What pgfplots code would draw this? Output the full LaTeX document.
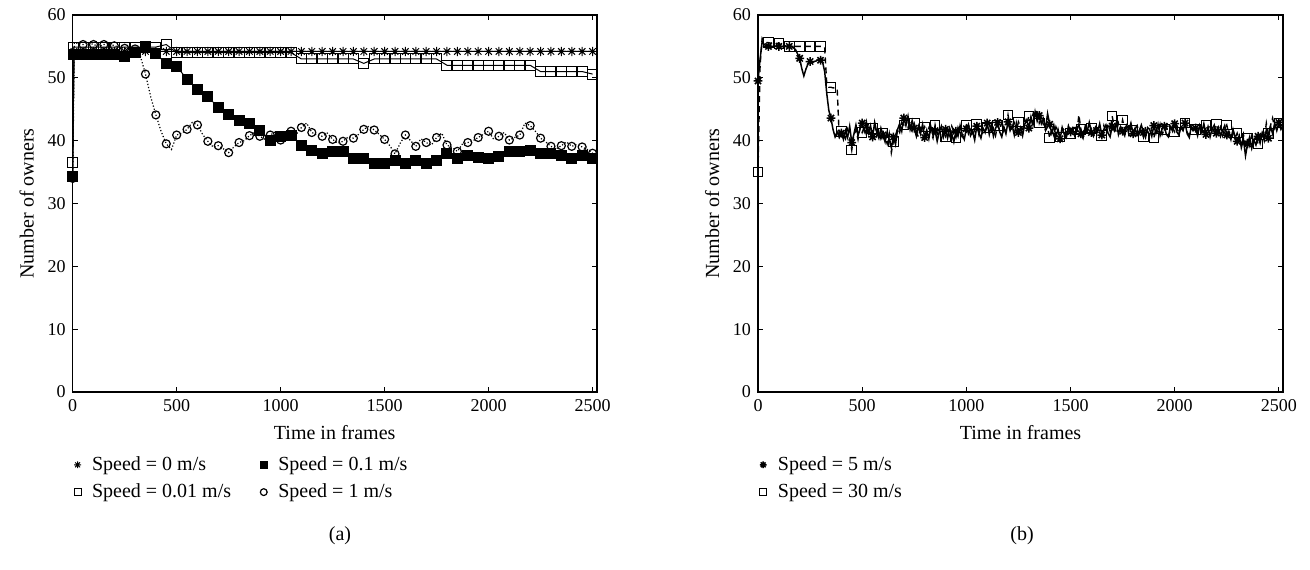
\documentclass[border=0pt]{standalone}
\usepackage{fontspec}
\setmainfont{Liberation Serif}
\usepackage{pgfplots}
\pgfplotsset{compat=1.18}
\pgfdeclareplotmark{ast8}{%
 \pgfpathmoveto{\pgfqpoint{-\pgfplotmarksize}{0pt}}\pgfpathlineto{\pgfqpoint{\pgfplotmarksize}{0pt}}%
 \pgfpathmoveto{\pgfqpoint{0pt}{-\pgfplotmarksize}}\pgfpathlineto{\pgfqpoint{0pt}{\pgfplotmarksize}}%
 \pgfpathmoveto{\pgfqpoint{-.707\pgfplotmarksize}{-.707\pgfplotmarksize}}\pgfpathlineto{\pgfqpoint{.707\pgfplotmarksize}{.707\pgfplotmarksize}}%
 \pgfpathmoveto{\pgfqpoint{-.707\pgfplotmarksize}{.707\pgfplotmarksize}}\pgfpathlineto{\pgfqpoint{.707\pgfplotmarksize}{-.707\pgfplotmarksize}}%
 \pgfusepathqstroke}
\pgfplotsset{
 myax/.style={scale only axis, height=188.5pt, xmin=0, xmax=2520, ymin=0, ymax=60,
  xtick={0,500,...,2500}, ytick={0,10,...,60}, tick align=inside, major tick length=2.5pt,
  axis line style={line width=0.8pt}, every tick/.style={line width=0.6pt, black},
  tick label style={font=\small}, /pgf/number format/assume math mode=true,
  /pgf/number format/1000 sep={},
  xlabel={Time in frames}, ylabel={Number of owners},
  legend cell align=left,
  legend image code/.code={\path (-3pt,0pt) (5pt,0pt); \draw[mark size=1.7pt, mark repeat=1, mark phase=1] plot coordinates {(0pt,0pt)};},
  legend style={draw=none, fill=none, font=\normalsize, at={(axis description cs:0,0)}, anchor=north west, xshift=-1pt, yshift=-30pt, inner sep=0pt, row sep=1.2pt, /tikz/every even column/.append style={column sep=11pt}},
 }
}
\begin{document}
\begin{tikzpicture}
\path[use as bounding box] (0,0) rectangle (655pt,284.5pt);
\begin{axis}[myax, width=262pt, at={(36.35pt,88.5pt)}, anchor=south west, legend columns=2, transpose legend]
\addplot[black, line width=0.5pt, mark=ast8, mark size=2.3pt, mark options={solid}] coordinates {
(0,34.0)(6,54.2)(50,54.2)(100,54.2)(150,54.2)(200,54.2)(250,54.2)(300,54.2)(350,54.2)(400,54.2)(450,54.2)(500,54.2)(550,54.2)(600,54.2)(650,54.2)(700,54.2)(750,54.2)(800,54.2)(850,54.2)(900,54.2)(950,54.2)(1000,54.2)(1050,54.2)(1100,54.2)(1150,54.2)(1200,54.2)(1250,54.2)(1300,54.2)(1350,54.2)(1400,54.2)(1450,54.2)(1500,54.2)(1550,54.2)(1600,54.2)(1650,54.2)(1700,54.2)(1750,54.2)(1800,54.2)(1850,54.2)(1900,54.2)(1950,54.2)(2000,54.2)(2050,54.2)(2100,54.2)(2150,54.2)(2200,54.2)(2250,54.2)(2300,54.2)(2350,54.2)(2400,54.2)(2450,54.2)(2500,54.2)};
\addlegendentry{Speed = 0 m/s}
\addplot[black, line width=0.5pt, mark=square, mark size=2.5pt, mark options={solid}] coordinates {
(0,36.6)(6,54.9)(50,54.9)(100,54.9)(150,54.9)(200,54.9)(250,54.9)(300,54.9)(350,54.9)(400,54.9)(450,55.3)(500,54.0)(550,54.0)(600,54.0)(650,54.0)(700,54.0)(750,54.0)(800,54.0)(850,54.0)(900,54.0)(950,54.0)(1000,54.0)(1050,54.0)(1100,53.0)(1150,53.0)(1200,53.0)(1250,53.0)(1300,53.0)(1350,53.0)(1400,52.3)(1450,53.0)(1500,53.0)(1550,53.0)(1600,53.0)(1650,53.0)(1700,53.0)(1750,53.0)(1800,52.0)(1850,52.0)(1900,52.0)(1950,52.0)(2000,52.0)(2050,52.0)(2100,52.0)(2150,52.0)(2200,52.0)(2250,51.0)(2300,51.0)(2350,51.0)(2400,51.0)(2450,51.0)(2500,50.6)};
\addlegendentry{Speed = 0.01 m/s}
\addplot[black, line width=0.5pt, mark=square*, mark size=2.5pt, mark options={solid, fill=black}] coordinates {
(0,34.3)(6,53.7)(50,53.7)(100,53.7)(150,53.7)(200,53.7)(250,53.4)(300,54.0)(350,55.0)(400,53.8)(450,52.3)(500,51.8)(550,49.8)(600,48.1)(650,47.0)(700,45.3)(750,44.1)(800,43.2)(850,42.8)(900,41.6)(950,40.1)(1000,40.7)(1050,40.9)(1100,39.2)(1150,38.5)(1200,38.0)(1250,38.3)(1300,38.3)(1350,37.2)(1400,37.2)(1450,36.3)(1500,36.3)(1550,36.8)(1600,36.4)(1650,36.9)(1700,36.3)(1750,36.9)(1800,37.9)(1850,37.2)(1900,37.7)(1950,37.4)(2000,37.2)(2050,37.5)(2100,38.3)(2150,38.3)(2200,38.4)(2250,37.9)(2300,37.9)(2350,37.7)(2400,37.1)(2450,37.7)(2500,37.2)};
\addlegendentry{Speed = 0.1 m/s}
\addplot[black, line width=0.6pt, densely dotted, mark=o, mark size=2pt, mark repeat=2, mark phase=1, mark options={solid}] coordinates {
(0,34.0)(8,55.6)(50,55.3)(75,55.6)(100,55.3)(125,55.0)(150,55.3)(175,55.5)(200,55.1)(225,54.9)(250,54.7)(275,54.5)(300,54.6)(325,53.5)(350,50.6)(375,47.0)(400,44.1)(425,41.5)(450,39.5)(475,38.6)(500,40.9)(525,41.2)(550,41.8)(575,42.9)(600,42.5)(625,41.0)(650,39.9)(675,39.0)(700,39.2)(725,38.7)(750,38.1)(775,39.0)(800,39.7)(825,40.0)(850,40.8)(875,41.3)(900,40.7)(925,40.2)(950,40.9)(975,41.4)(1000,40.1)(1025,40.8)(1050,41.5)(1075,41.0)(1100,42.1)(1125,42.8)(1150,41.3)(1175,40.9)(1200,40.7)(1225,41.2)(1250,40.2)(1275,39.6)(1300,39.9)(1325,40.6)(1350,40.4)(1375,41.0)(1400,41.8)(1425,42.3)(1450,41.7)(1475,41.0)(1500,40.2)(1525,39.2)(1550,37.9)(1575,39.6)(1600,40.9)(1625,40.0)(1650,39.1)(1675,40.3)(1700,39.7)(1725,39.3)(1750,40.5)(1775,41.2)(1800,39.3)(1825,38.9)(1850,38.3)(1875,39.5)(1900,39.7)(1925,40.0)(1950,40.5)(1975,41.0)(2000,41.5)(2025,40.2)(2050,40.7)(2075,41.3)(2100,40.1)(2125,40.5)(2150,40.9)(2175,42.8)(2200,42.4)(2225,41.5)(2250,40.4)(2275,39.8)(2300,39.1)(2325,38.7)(2350,39.2)(2375,39.8)(2400,39.1)(2425,39.4)(2450,39.0)(2475,38.6)(2500,38.0)};
\addlegendentry{Speed = 1 m/s}
\end{axis}
\begin{axis}[myax, width=262.5pt, at={(379pt,88.5pt)}, anchor=south west]
\addplot[black, line width=0.75pt, mark=ast8, mark size=2.2pt, mark repeat=5, mark phase=1, mark options={solid}] coordinates {
(0,49.5)(10,53.0)(20,55.8)(30,55.3)(40,55.1)(50,55.0)(60,55.1)(70,54.9)(80,55.0)(90,55.1)(100,55.0)(110,54.9)(120,55.0)(130,55.1)(140,54.9)(150,55.0)(160,55.0)(170,54.8)(180,54.5)(190,53.8)(200,53.1)(210,51.5)(220,50.3)(230,51.4)(240,52.2)(250,52.6)(260,52.4)(270,52.6)(280,52.7)(290,52.9)(300,52.8)(310,52.5)(320,51.0)(330,47.5)(340,44.8)(350,43.6)(360,41.8)(370,40.6)(380,41.4)(390,40.5)(400,41.2)
(410,40.2)(420,41.6)(430,40.5)(440,42.3)(450,39.7)(460,41.0)(470,42.5)(480,40.8)(490,41.9)(500,42.8)
(510,41.5)(520,43.0)(530,41.2)(540,42.4)(550,40.6)(560,42.9)(570,41.3)(580,40.4)(590,42.0)(600,40.9)
(610,39.8)(620,41.4)(630,40.2)(640,38.9)(650,40.6)(660,39.4)(670,41.8)(680,42.7)(690,41.5)(700,43.6)
(710,42.4)(720,43.9)(730,41.8)(740,43.2)(750,42.0)(760,40.7)(770,42.3)(780,41.1)(790,42.6)(800,40.5)
(810,41.7)(820,40.3)(830,42.2)(840,40.9)(850,41.6)(860,39.9)(870,41.4)(880,42.3)(890,40.6)(900,41.8)
(910,40.4)(920,42.0)(930,41.1)(940,39.8)(950,41.5)(960,40.7)(970,42.4)(980,41.0)(990,40.2)(1000,41.9)
(1010,42.6)(1020,40.8)(1030,41.5)(1040,40.1)(1050,42.3)(1060,41.2)(1070,40.4)(1080,42.0)(1090,41.3)(1100,42.8)
(1110,41.0)(1120,42.5)(1130,40.7)(1140,41.9)(1150,42.9)(1160,41.4)(1170,40.6)(1180,42.2)(1190,41.1)(1200,43.0)
(1210,41.6)(1220,42.4)(1230,40.9)(1240,42.8)(1250,41.3)(1260,42.1)(1270,40.8)(1280,42.6)(1290,43.3)(1300,42.0)
(1310,43.8)(1320,42.5)(1330,44.6)(1340,43.1)(1350,44.0)(1360,42.7)(1370,43.5)(1380,41.9)(1390,44.3)(1400,42.6)
(1410,41.2)(1420,42.4)(1430,40.6)(1440,41.8)(1450,40.3)(1460,42.1)(1470,41.0)(1480,40.5)(1490,42.3)(1500,41.4)
(1510,42.0)(1520,40.8)(1530,41.7)(1540,42.6)(1550,41.1)(1560,40.4)(1570,42.2)(1580,41.5)(1590,42.9)(1600,41.3)
(1610,40.7)(1620,42.1)(1630,41.4)(1640,42.7)(1650,40.9)(1660,41.8)(1670,42.5)(1680,41.2)(1690,40.6)(1700,42.3)
(1710,41.6)(1720,42.9)(1730,41.0)(1740,42.2)(1750,41.5)(1760,40.8)(1770,42.4)(1780,41.7)(1790,42.8)(1800,41.1)
(1810,42.0)(1820,40.9)(1830,41.6)(1840,42.5)(1850,41.3)(1860,40.5)(1870,42.1)(1880,41.8)(1890,40.7)(1900,42.4)
(1910,41.2)(1920,42.6)(1930,40.8)(1940,41.9)(1950,42.3)(1960,41.0)(1970,40.6)(1980,42.2)(1990,41.5)(2000,42.7)
(2010,41.4)(2020,40.9)(2030,42.1)(2040,41.6)(2050,42.8)(2060,41.1)(2070,40.5)(2080,42.3)(2090,41.7)(2100,42.0)
(2110,40.8)(2120,42.4)(2130,41.3)(2140,42.7)(2150,41.0)(2160,42.2)(2170,40.6)(2180,41.9)(2190,42.5)(2200,41.2)
(2210,42.1)(2220,40.7)(2230,41.6)(2240,42.4)(2250,40.9)(2260,41.5)(2270,40.2)(2280,41.8)(2290,40.6)(2300,39.9)
(2310,40.8)(2320,38.9)(2330,40.2)(2340,37.6)(2350,39.5)(2360,40.6)(2370,38.8)(2380,40.1)(2390,39.3)(2400,40.7)
(2410,39.6)(2420,41.2)(2430,40.0)(2440,41.7)(2450,40.4)(2460,42.3)(2470,41.1)(2480,42.8)(2490,41.6)(2500,42.9)
(2510,41.8)(2520,42.4)};
\addlegendentry{Speed = 5 m/s}
\addplot[black, line width=0.7pt, dash pattern=on 3pt off 2pt, mark=square, mark size=2.4pt, mark repeat=5, mark phase=1, mark options={solid, line width=0.5pt}] coordinates {
(0,35.0)(10,52.0)(20,56.3)(30,55.8)(40,55.6)(50,55.6)(60,55.5)(70,55.6)(80,55.5)(90,55.5)(100,55.5)(110,55.2)(120,55.0)(130,55.0)(140,55.0)(150,55.0)(160,55.0)(170,55.0)(180,55.0)(190,55.0)(200,55.0)(210,55.0)(220,55.0)(230,55.0)(240,55.0)(250,55.0)(260,55.0)(270,55.0)(280,55.0)(290,55.0)(300,55.0)(310,55.0)(320,54.8)(330,49.0)(340,48.5)(350,48.5)(360,48.4)(370,48.4)(380,48.3)(390,40.6)(400,41.5)
(410,41.0)(420,40.3)(430,41.8)(440,40.6)(450,38.5)(460,40.9)(470,41.7)(480,40.2)(490,42.1)(500,41.3)
(510,42.2)(520,41.0)(530,42.8)(540,40.7)(550,41.9)(560,42.4)(570,40.8)(580,41.6)(590,40.3)(600,41.2)
(610,40.6)(620,39.5)(630,41.1)(640,38.1)(650,39.9)(660,40.8)(670,42.0)(680,41.3)(690,42.9)(700,42.5)
(710,43.4)(720,42.1)(730,43.0)(740,41.6)(750,42.7)(760,41.3)(770,40.6)(780,42.0)(790,41.4)(800,42.2)
(810,40.9)(820,42.0)(830,41.2)(840,40.4)(850,42.5)(860,41.0)(870,41.8)(880,40.2)(890,41.6)(900,40.7)
(910,41.9)(920,40.8)(930,42.3)(940,41.4)(950,40.5)(960,42.1)(970,41.2)(980,40.6)(990,41.7)(1000,42.4)
(1010,41.1)(1020,42.0)(1030,40.7)(1040,41.8)(1050,42.6)(1060,41.0)(1070,42.2)(1080,40.9)(1090,41.5)(1100,42.1)
(1110,42.7)(1120,41.3)(1130,42.0)(1140,40.8)(1150,42.4)(1160,41.7)(1170,42.9)(1180,41.5)(1190,42.2)(1200,44.1)
(1210,42.3)(1220,41.6)(1230,42.8)(1240,41.4)(1250,43.0)(1260,42.2)(1270,41.8)(1280,43.4)(1290,42.6)(1300,43.9)
(1310,42.9)(1320,44.2)(1330,43.4)(1340,45.0)(1350,42.8)(1360,43.7)(1370,42.5)(1380,41.6)(1390,42.2)(1400,40.4)
(1410,41.9)(1420,40.8)(1430,42.2)(1440,41.3)(1450,40.6)(1460,42.0)(1470,41.7)(1480,40.9)(1490,42.3)(1500,41.1)
(1510,41.6)(1520,42.5)(1530,41.0)(1540,44.1)(1550,41.8)(1560,40.7)(1570,42.1)(1580,41.4)(1590,42.6)(1600,41.9)
(1610,42.3)(1620,41.2)(1630,42.0)(1640,41.6)(1650,40.8)(1660,42.4)(1670,41.3)(1680,42.7)(1690,41.5)(1700,43.9)
(1710,42.2)(1720,41.4)(1730,42.8)(1740,41.7)(1750,43.3)(1760,41.9)(1770,42.5)(1780,41.0)(1790,42.1)(1800,41.6)
(1810,41.8)(1820,42.4)(1830,41.1)(1840,41.9)(1850,40.6)(1860,42.2)(1870,41.5)(1880,40.9)(1890,41.7)(1900,40.4)
(1910,42.0)(1920,41.3)(1930,42.6)(1940,41.0)(1950,41.8)(1960,42.3)(1970,40.8)(1980,41.6)(1990,42.1)(2000,41.4)
(2010,42.2)(2020,41.0)(2030,42.5)(2040,41.7)(2050,42.8)(2060,41.3)(2070,40.9)(2080,42.0)(2090,41.6)(2100,41.8)
(2110,41.2)(2120,42.3)(2130,41.6)(2140,40.9)(2150,42.4)(2160,41.8)(2170,42.6)(2180,41.1)(2190,42.0)(2200,42.6)
(2210,41.4)(2220,42.2)(2230,40.8)(2240,41.9)(2250,42.5)(2260,41.0)(2270,40.7)(2280,41.6)(2290,40.4)(2300,41.2)
(2310,40.1)(2320,39.6)(2330,41.0)(2340,38.9)(2350,40.3)(2360,39.2)(2370,40.8)(2380,39.8)(2390,40.9)(2400,39.5)
(2410,40.6)(2420,41.5)(2430,40.2)(2440,42.8)(2450,41.1)(2460,42.4)(2470,43.6)(2480,42.0)(2490,42.9)(2500,42.8)
(2510,42.3)(2520,43.1)};
\addlegendentry{Speed = 30 m/s}
\end{axis}
\node at (170pt,16.5pt) {(a)};
\node at (511pt,16.5pt) {(b)};
\end{tikzpicture}
\end{document}
